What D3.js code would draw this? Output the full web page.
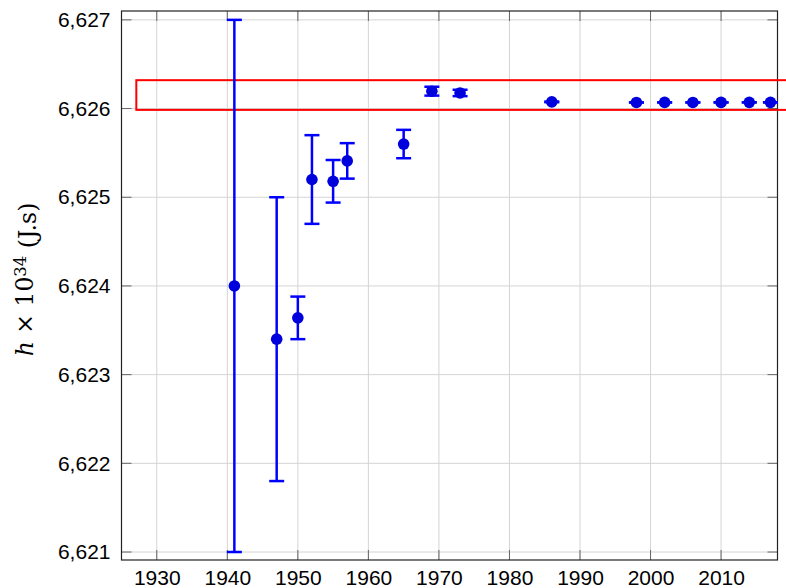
<!DOCTYPE html>
<html>
<head>
<meta charset="utf-8">
<script src="https://cdn.jsdelivr.net/npm/d3@7"></script>
<style>
	body { margin: 0; background: #fff; }
	.tick text { font-family: "Liberation Sans", Arial, sans-serif; font-size: 21px; fill: #000; }
	.grid line { stroke: #d4d4d4; stroke-width: 1; }
</style>
</head>
<body>
<div id="chart"></div>
<script>
// measurements of Planck's constant (year, value, uncertainty)
var years = [1941, 1947, 1950, 1952, 1955, 1957, 1965, 1969, 1973, 1986, 1998, 2002, 2006, 2010, 2014, 2017];
var values = [6.624, 6.6234, 6.62364, 6.6252, 6.62518, 6.62541, 6.6256, 6.626196, 6.626176,
	6.6260755, 6.62606876, 6.6260693, 6.62606896, 6.62606957, 6.62607004, 6.62607015];
var errors = [0.003, 0.0016, 0.00024, 0.0005, 0.00024, 0.0002, 0.00016, 0.00005, 0.000036,
	0.000004, 0.0000005, 0.0000005, 0.0000003, 0.0000003, 0.0000001, 0.0000001];

var xTicks = [1930, 1940, 1950, 1960, 1970, 1980, 1990, 2000, 2010];
var yTicks = [6.621, 6.622, 6.623, 6.624, 6.625, 6.626, 6.627];

// highlighted band (x from, x to, y low, y high)
var bandX = [1927.1, 2020];
var bandY = [6.625985, 6.62632];

var margin = { top: 11, left: 121.5 };
var width = 656;
var height = 549;

var svg = d3.select("#chart")
	.append("svg")
	.attr("width", 786)
	.attr("height", 588)
	.append("g")
	.attr("transform", "translate(" + margin.left + "," + margin.top + ")");

var x = d3.scaleLinear().domain([1925, 2018]).range([0, width]);
var y = d3.scaleLinear().domain([6.62091, 6.62710]).range([height, 0]);

var comma = d3.formatLocale({ decimal: ",", thousands: ".", grouping: [3], currency: ["", ""] });
var yFmt = comma.format(".3f");

// grid
svg.append("g").attr("class", "grid")
	.selectAll("line").data(xTicks).enter().append("line")
	.attr("x1", d => x(d)).attr("x2", d => x(d))
	.attr("y1", 0).attr("y2", height);
svg.append("g").attr("class", "grid")
	.selectAll("line").data(yTicks).enter().append("line")
	.attr("x1", 0).attr("x2", width)
	.attr("y1", d => y(d)).attr("y2", d => y(d));

// axes labels only, the marks are drawn below
var xAxis = svg.append("g")
	.attr("transform", "translate(0," + height + ")")
	.call(d3.axisBottom(x).tickValues(xTicks).tickSize(0).tickPadding(10).tickFormat(d3.format("d")));
var yAxis = svg.append("g")
	.call(d3.axisLeft(y).tickValues(yTicks).tickSize(0).tickPadding(11).tickFormat(yFmt));
[xAxis, yAxis].forEach(a => a.select(".domain").remove());

// inward tick marks on all sides
var tk = 10;
var ticks = svg.append("g").attr("stroke", "#666").attr("stroke-width", 1);
xTicks.forEach(d => {
	ticks.append("line").attr("x1", x(d)).attr("x2", x(d)).attr("y1", height).attr("y2", height - tk);
	ticks.append("line").attr("x1", x(d)).attr("x2", x(d)).attr("y1", 0).attr("y2", tk);
});
yTicks.forEach(d => {
	ticks.append("line").attr("x1", 0).attr("x2", tk).attr("y1", y(d)).attr("y2", y(d));
	ticks.append("line").attr("x1", width).attr("x2", width - tk).attr("y1", y(d)).attr("y2", y(d));
});

// frame
svg.append("rect")
	.attr("width", width).attr("height", height)
	.attr("fill", "none").attr("stroke", "#222").attr("stroke-width", 1.2);

// red band
svg.append("rect")
	.attr("x", x(bandX[0]))
	.attr("y", y(bandY[1]))
	.attr("width", x(bandX[1]) - x(bandX[0]))
	.attr("height", y(bandY[0]) - y(bandY[1]))
	.attr("fill", "none").attr("stroke", "#ff0000").attr("stroke-width", 2);

var pts = years.map((d, i) => ({ year: d, value: values[i], err: errors[i] }));
var cap = 7.5;

var bars = svg.append("g").attr("stroke", "#0000ff").attr("stroke-width", 2.5);
pts.forEach(p => {
	var cx = x(p.year), lo = y(p.value - p.err), hi = y(p.value + p.err);
	bars.append("line").attr("x1", cx).attr("x2", cx).attr("y1", lo).attr("y2", hi);
	bars.append("line").attr("x1", cx - cap).attr("x2", cx + cap).attr("y1", lo).attr("y2", lo);
	bars.append("line").attr("x1", cx - cap).attr("x2", cx + cap).attr("y1", hi).attr("y2", hi);
});

svg.append("g").selectAll("circle").data(pts).enter().append("circle")
	.attr("cx", d => x(d.year))
	.attr("cy", d => y(d.value))
	.attr("r", 5.8)
	.attr("fill", "#0000dd");

// y axis title
var lbl = d3.select("svg").append("text")
	.attr("transform", "translate(33," + (margin.top + height / 2 - 6) + ") rotate(-90)")
	.attr("text-anchor", "middle")
	.attr("font-family", "'DejaVu Serif', 'Liberation Serif', serif")
	.attr("font-size", 23.5)
	.attr("fill", "#000");
lbl.append("tspan").attr("font-style", "italic").text("h");
lbl.append("tspan").text(" × 10");
lbl.append("tspan").attr("dy", "-0.45em").attr("font-size", 16.5).text("34");
lbl.append("tspan").attr("dy", "0.45em").text(" (J.s)");
</script>
</body>
</html>
